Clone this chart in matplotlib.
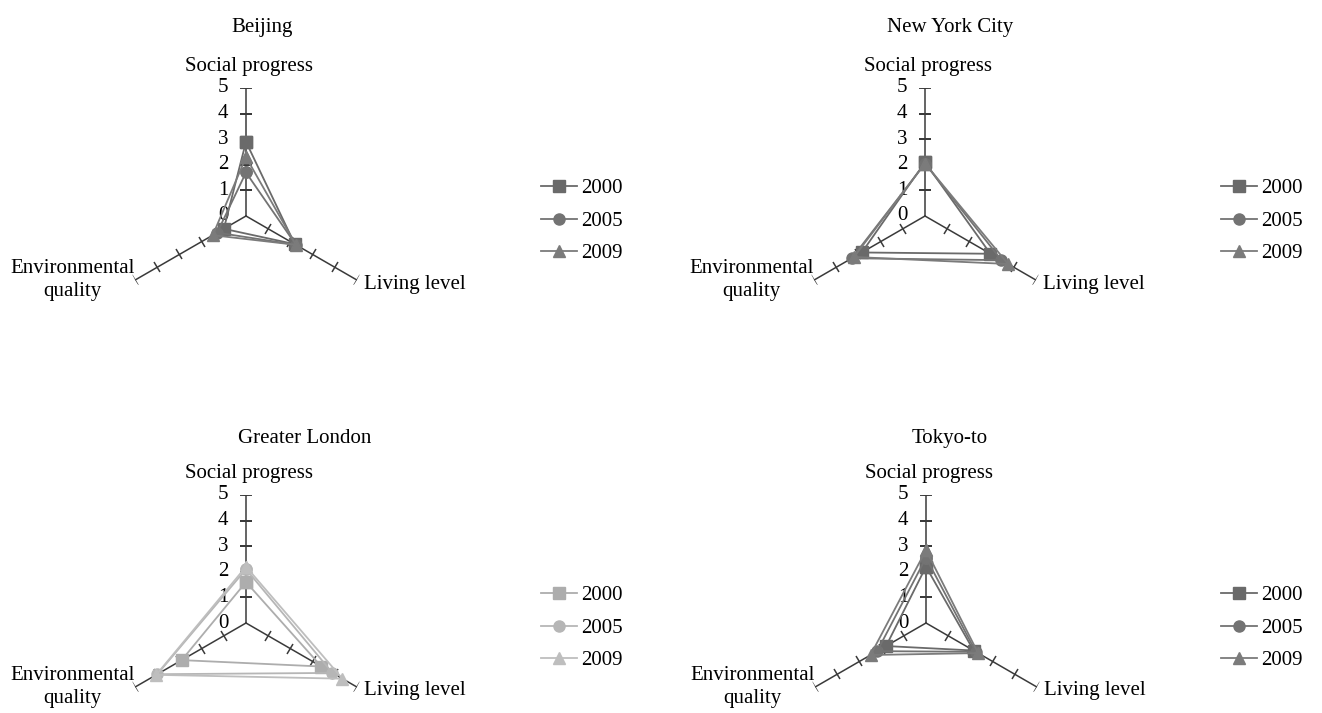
import numpy as np
import matplotlib
matplotlib.use('Agg')
import matplotlib.pyplot as plt
from matplotlib.markers import MarkerStyle
from matplotlib.transforms import Affine2D, offset_copy

plt.rcParams['font.family'] = ['Liberation Serif', 'DejaVu Serif']

# data: order of each list is social progress, living level, environmental quality
axes_names = ['Social progress', 'Living level', 'Environmental\nquality']
years = ['2000', '2005', '2009']
cities = ['Beijing', 'New York City', 'Greater London', 'Tokyo-to']

beijing = [[2.9, 2.2, 1.0],
           [1.7, 2.25, 1.3],
           [2.3, 2.25, 1.5]]
new_york = [[2.1, 2.95, 2.85],
            [2.05, 3.45, 3.3],
            [2.05, 3.75, 3.2]]
london = [[1.6, 3.4, 2.9],
          [2.1, 3.9, 4.0],
          [2.2, 4.35, 4.05]]
tokyo = [[2.2, 2.15, 1.8],
         [2.55, 2.25, 2.2],
         [2.85, 2.35, 2.5]]
city_values = [beijing, new_york, london, tokyo]

# layout (pixels, from top-left)
W, H = 1322, 713
R = 128
centers = [(246, 216), (925, 216), (246, 623), (926, 623)]
titles_xy = [(262, 32), (950, 32), (305, 443), (950, 443)]  # baseline
legend_x = [541, 1221, 541, 1221]
markers = ['s', 'o', '^']
dark_cols = ['#6a6a6a', '#737373', '#7b7b7b']
light_cols = ['#adadad', '#b6b6b6', '#bebebe']
axis_col = '#3a3a3a'
fs = 15

fig = plt.figure(figsize=(W / 100, H / 100), dpi=100)
theta = np.array([np.pi / 2, -np.pi / 6, 7 * np.pi / 6])


def draw_axes(ax):
    for t in theta:
        ax.plot([t, t], [0, 5], color=axis_col, lw=1.1, zorder=1)
        ms = MarkerStyle('_', transform=Affine2D().rotate_deg(np.degrees(t) + 90))
        ax.plot([t] * 5, [1, 2, 3, 4, 5], ls='none', marker=ms, ms=9,
                mec=axis_col, mew=1.1, zorder=1)
    lab = offset_copy(ax.transData, fig=fig, x=-23, y=0, units='dots')
    for v in range(6):
        ax.text(np.pi / 2, v, str(v), transform=lab, ha='center', va='center',
                fontsize=fs, zorder=0)
    t1 = offset_copy(ax.transData, fig=fig, x=3, y=21, units='dots')
    ax.text(theta[0], 5, axes_names[0], transform=t1, ha='center', va='center', fontsize=fs)
    t2 = offset_copy(ax.transData, fig=fig, x=7, y=-4, units='dots')
    ax.text(theta[1], 5, axes_names[1], transform=t2, ha='left', va='center', fontsize=fs)
    t3 = offset_copy(ax.transData, fig=fig, x=-63, y=0, units='dots')
    ax.text(theta[2], 5, axes_names[2], transform=t3, ha='center', va='center',
            fontsize=fs, linespacing=1.25)


for i, city in enumerate(cities):
    cx, cy = centers[i]
    ax = fig.add_axes([(cx - R) / W, 1 - (cy + R) / H, 2 * R / W, 2 * R / H],
                      projection='polar')
    ax.set_ylim(0, 5)
    ax.set_axis_off()
    draw_axes(ax)
    cols = light_cols if city == 'Greater London' else dark_cols
    handles = []
    for j, yr in enumerate(years):
        vals = city_values[i][j]
        h, = ax.plot(np.append(theta, theta[0]), vals + vals[:1], color=cols[j],
                     lw=1.3, marker=markers[j], ms=8, mfc=cols[j], mec=cols[j],
                     label=yr, zorder=3, clip_on=False)
        handles.append(h)
    ax.legend(handles=handles, loc='center left',
              bbox_to_anchor=(legend_x[i] / W, 1 - (cy + 5) / H),
              bbox_transform=fig.transFigure, frameon=False, fontsize=fs,
              handlelength=1.73, handletextpad=0.19, labelspacing=0.62,
              borderpad=0, borderaxespad=0)
    tx, ty = titles_xy[i]
    fig.text(tx / W, 1 - ty / H, city, ha='center', va='baseline', fontsize=fs)

fig.savefig('out.png', dpi=100)
